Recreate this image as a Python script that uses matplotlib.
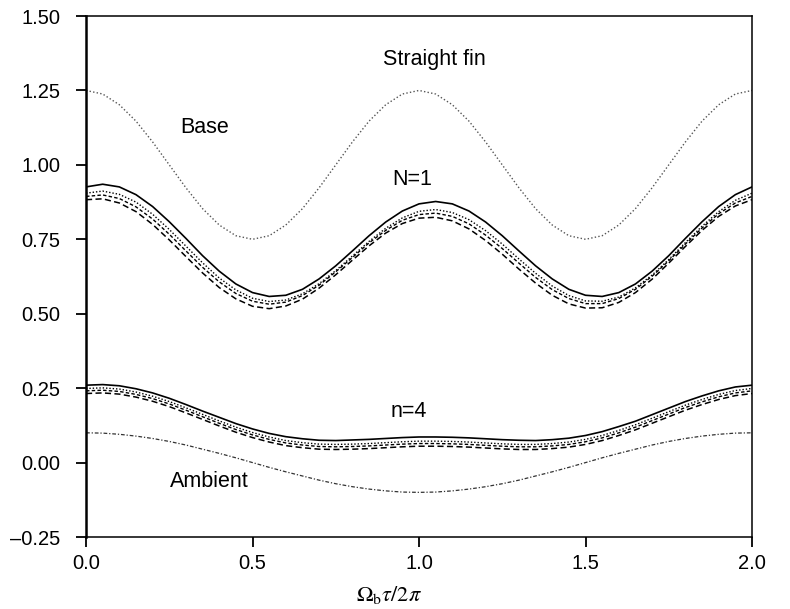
import numpy as np
import matplotlib
matplotlib.use('Agg')
import matplotlib.pyplot as plt

plt.rcParams['font.family'] = ['Liberation Sans', 'DejaVu Sans']
plt.rcParams['mathtext.fontset'] = 'stix'

# dimensionless time Omega_b tau / 2 pi
t = np.linspace(0.0, 2.0, 41)

# straight fin: base and ambient temperature histories
base = [1.250, 1.238, 1.202, 1.147, 1.077, 1.000, 0.923, 0.853, 0.798, 0.762, 0.750,
        0.762, 0.798, 0.853, 0.923, 1.000, 1.077, 1.147, 1.202, 1.238, 1.250,
        1.238, 1.202, 1.147, 1.077, 1.000, 0.923, 0.853, 0.798, 0.762, 0.750,
        0.762, 0.798, 0.853, 0.923, 1.000, 1.077, 1.147, 1.202, 1.238, 1.250]
ambient = [0.100, 0.099, 0.095, 0.089, 0.081, 0.071, 0.059, 0.045, 0.031, 0.016, 0.000,
           -0.016, -0.031, -0.045, -0.059, -0.071, -0.081, -0.089, -0.095, -0.099, -0.100,
           -0.099, -0.095, -0.089, -0.081, -0.071, -0.059, -0.045, -0.031, -0.016, 0.000,
           0.016, 0.031, 0.045, 0.059, 0.071, 0.081, 0.089, 0.095, 0.099, 0.100]

# N = 1 family
n1_solid = [0.926, 0.935, 0.926, 0.900, 0.860, 0.809, 0.753, 0.695, 0.643, 0.600, 0.571, 0.558, 0.562, 0.582, 0.617, 0.661, 0.711, 0.762, 0.808, 0.845, 0.869, 0.877, 0.869, 0.845, 0.808, 0.762, 0.711, 0.661, 0.617, 0.582, 0.562, 0.558, 0.571, 0.600, 0.643, 0.695, 0.753, 0.809, 0.860, 0.900, 0.926]
n1_dot = [0.905, 0.912, 0.901, 0.875, 0.834, 0.783, 0.727, 0.671, 0.620, 0.580, 0.552, 0.541, 0.546, 0.567, 0.601, 0.645, 0.694, 0.743, 0.787, 0.822, 0.844, 0.850, 0.840, 0.816, 0.779, 0.734, 0.684, 0.636, 0.593, 0.561, 0.543, 0.542, 0.556, 0.587, 0.630, 0.682, 0.739, 0.794, 0.843, 0.881, 0.905]
n1_sdash = [0.894, 0.899, 0.887, 0.859, 0.818, 0.767, 0.711, 0.656, 0.607, 0.568, 0.542, 0.532, 0.539, 0.561, 0.596, 0.641, 0.689, 0.738, 0.780, 0.814, 0.833, 0.838, 0.827, 0.802, 0.764, 0.719, 0.670, 0.622, 0.581, 0.551, 0.534, 0.534, 0.551, 0.582, 0.626, 0.678, 0.734, 0.788, 0.836, 0.872, 0.894]
n1_dash = [0.883, 0.886, 0.872, 0.843, 0.800, 0.748, 0.692, 0.637, 0.588, 0.550, 0.525, 0.517, 0.526, 0.549, 0.586, 0.631, 0.680, 0.728, 0.771, 0.803, 0.821, 0.824, 0.812, 0.785, 0.746, 0.700, 0.650, 0.603, 0.562, 0.533, 0.519, 0.520, 0.538, 0.571, 0.616, 0.670, 0.726, 0.780, 0.827, 0.862, 0.883]

# n = 4 family
n4_solid = [0.260, 0.262, 0.258, 0.248, 0.234, 0.216, 0.195, 0.173, 0.152, 0.131, 0.113, 0.098, 0.087, 0.080, 0.075, 0.074, 0.076, 0.078, 0.081, 0.084, 0.086, 0.086, 0.085, 0.083, 0.080, 0.077, 0.075, 0.074, 0.077, 0.082, 0.091, 0.104, 0.121, 0.139, 0.161, 0.183, 0.205, 0.224, 0.241, 0.254, 0.260]
n4_dot = [0.249, 0.251, 0.247, 0.237, 0.223, 0.205, 0.184, 0.162, 0.140, 0.119, 0.101, 0.086, 0.074, 0.067, 0.062, 0.061, 0.062, 0.064, 0.067, 0.070, 0.072, 0.072, 0.071, 0.069, 0.066, 0.063, 0.061, 0.061, 0.064, 0.069, 0.078, 0.091, 0.108, 0.127, 0.149, 0.171, 0.193, 0.212, 0.229, 0.242, 0.249]
n4_sdash = [0.241, 0.243, 0.239, 0.229, 0.215, 0.197, 0.176, 0.154, 0.132, 0.111, 0.093, 0.078, 0.066, 0.059, 0.054, 0.053, 0.054, 0.056, 0.059, 0.062, 0.064, 0.064, 0.063, 0.061, 0.058, 0.055, 0.053, 0.053, 0.056, 0.061, 0.070, 0.083, 0.100, 0.119, 0.141, 0.163, 0.185, 0.204, 0.221, 0.234, 0.241]
n4_dash = [0.232, 0.234, 0.230, 0.220, 0.206, 0.188, 0.167, 0.145, 0.123, 0.102, 0.084, 0.069, 0.057, 0.050, 0.045, 0.044, 0.045, 0.047, 0.050, 0.053, 0.055, 0.055, 0.054, 0.052, 0.049, 0.046, 0.044, 0.044, 0.047, 0.052, 0.061, 0.074, 0.091, 0.110, 0.132, 0.154, 0.176, 0.195, 0.212, 0.225, 0.232]

x_ticks = [0.0, 0.5, 1.0, 1.5, 2.0]
y_ticks = [-0.25, 0.00, 0.25, 0.50, 0.75, 1.00, 1.25, 1.50]

fig = plt.figure(figsize=(7.9, 6.09), dpi=100)
ax = fig.add_axes([0.1089, 0.1182, 0.8430, 0.8555])

ax.plot(t, base, color='#555555', lw=1.0, ls=(0, (1, 1.6)))
ax.plot(t, ambient, color='#333333', lw=0.9, ls=(0, (3, 1.5, 1, 1.5)))

family_styles = [
    dict(color='black', lw=1.2, ls='-'),
    dict(color='black', lw=1.0, ls=(0, (1, 1.4))),
    dict(color='black', lw=1.0, ls=(0, (2.5, 1.6))),
    dict(color='black', lw=1.1, ls=(0, (4, 2.2))),
]
for series, st in zip([n1_solid, n1_dot, n1_sdash, n1_dash], family_styles):
    ax.plot(t, series, **st)
for series, st in zip([n4_solid, n4_dot, n4_sdash, n4_dash], family_styles):
    ax.plot(t, series, **st)

fs = 15.5
ax.text(1.045, 1.355, 'Straight fin', ha='center', va='center', fontsize=fs)
ax.text(0.355, 1.126, 'Base', ha='center', va='center', fontsize=fs)
ax.text(0.98, 0.950, 'N=1', ha='center', va='center', fontsize=fs)
ax.text(0.97, 0.170, 'n=4', ha='center', va='center', fontsize=fs)
ax.text(0.37, -0.062, 'Ambient', ha='center', va='center', fontsize=fs)

ax.set_xlim(0.0, 2.0)
ax.set_ylim(-0.25, 1.50)
ax.set_xticks(x_ticks)
ax.set_xticklabels(['%.1f' % v for v in x_ticks])
ax.set_yticks(y_ticks)
ax.set_yticklabels([('%.2f' % v).replace('-', '\u2013') for v in y_ticks])
ax.tick_params(direction='out', length=7.5, width=1.3, labelsize=14.5, color='black')
ax.tick_params(axis='x', pad=5)
ax.tick_params(axis='y', pad=11)
for side in ['top', 'right', 'bottom']:
    ax.spines[side].set_linewidth(1.1)
ax.spines['left'].set_linewidth(1.8)

ax.set_xlabel(r'$\Omega_{\mathrm{b}}\tau/2\pi$', fontsize=16, labelpad=8)
ax.xaxis.label.set_x(0.455)

fig.savefig('out.png', dpi=100)
